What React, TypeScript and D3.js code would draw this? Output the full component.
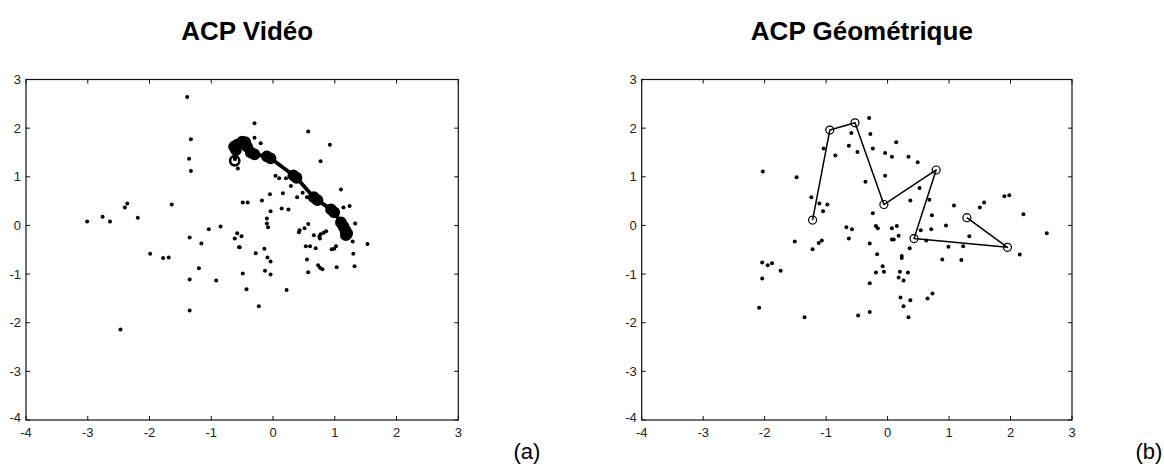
import React from "react";
import * as d3 from "d3";

const xTicks = [-4, -3, -2, -1, 0, 1, 2, 3];
const yTicks = [-4, -3, -2, -1, 0, 1, 2, 3];
const titles = ["ACP Vidéo", "ACP Géométrique"];
const panelLabels = ["(a)", "(b)"];

const leftScatter: [number, number][] = [
  [-1.39, 2.64], [-1.33, 1.77], [-1.36, 1.37], [-1.33, 1.12], [-3.01, 0.08], [-2.76, 0.18], [-2.64, 0.08],
  [-2.4, 0.37], [-2.36, 0.45], [-2.19, 0.16], [-1.64, 0.43], [-1.35, -0.25], [-1.16, -0.37], [-1.04, -0.08],
  [-0.85, -0.02], [-0.62, -0.27], [-0.58, -0.16], [-0.55, -0.45], [-1.99, -0.58], [-1.78, -0.67], [-1.69, -0.66],
  [-1.2, -0.88], [-1.35, -1.11], [-0.92, -1.13], [-1.35, -1.75], [-2.47, -2.14], [-0.57, 1.17],
  [-0.3, 2.1], [-0.3, 1.8], [-0.2, 1.69], [0.57, 1.93], [0.92, 1.66], [0.77, 1.32], [0.04, 1.02], [0.1, 0.97],
  [0.21, 0.97], [0.29, 0.81], [-0.05, 0.64], [0.16, 0.66], [0.39, 0.58], [0.48, 0.67], [0.55, 0.58], [1.1, 0.74],
  [1.14, 0.37], [1.24, 0.4], [1.33, 0.04], [-0.18, 0.51], [-0.49, 0.47], [-0.41, 0.47], [0.14, 0.35], [0.25, 0.33],
  [-0.04, 0.29], [-0.1, 0.14], [-0.1, 0.04], [-0.08, -0.04], [0.43, -0.1], [0.42, -0.14], [0.51, -0.06], [0.57, 0.03],
  [-0.51, -0.22], [-0.54, -0.45], [-0.28, -0.57], [-0.14, -0.48], [-0.09, -0.66], [0.66, -0.2], [0.75, -0.23],
  [0.77, -0.18], [0.82, -0.15], [0.86, -0.12], [0.76, -0.27], [0.53, -0.43], [0.6, -0.43], [0.69, -0.47],
  [0.95, -0.49], [0.99, -0.48], [1.02, -0.43], [1.29, -0.33], [1.53, -0.38], [1.3, -0.58], [0.55, -0.7],
  [-0.04, -0.74], [-0.49, -0.99], [-0.13, -0.93], [-0.04, -1.01], [-0.43, -1.31], [0.22, -1.33], [-0.23, -1.66],
  [0.57, -0.96], [0.73, -0.82], [0.76, -0.87], [0.8, -0.9], [1.03, -0.86], [1.32, -0.84],
];

const leftPath: [number, number][] = [
  [-0.62, 1.33], [-0.6, 1.55], [-0.63, 1.62], [-0.58, 1.66], [-0.5, 1.72], [-0.45, 1.71], [-0.42, 1.62],
  [-0.36, 1.5], [-0.3, 1.46], [-0.1, 1.42], [-0.04, 1.38], [0.33, 1.03], [0.38, 0.98], [0.66, 0.58],
  [0.72, 0.52], [0.94, 0.33], [0.99, 0.27], [1.1, 0.06], [1.14, -0.02], [1.17, -0.1], [1.2, -0.16], [1.18, -0.2],
];

const rightScatter: [number, number][] = [
  [-2.03, 1.11], [-1.48, 0.99], [-1.24, 0.58], [-1.11, 0.45], [-0.98, 0.43], [-1.05, 0.29], [-1.04, 1.58],
  [-0.85, 1.44], [-1.51, -0.33], [-1.22, -0.49], [-1.12, -0.36], [-1.07, -0.31],
  [-0.3, 2.21], [-0.59, 1.9], [-0.28, 1.88], [-0.63, 1.64], [-0.49, 1.51], [-0.24, 1.58], [0.14, 1.71],
  [-0.04, 1.49], [0.07, 1.41], [0.34, 1.41], [0.49, 1.3], [-0.04, 1.02], [-0.36, 0.9], [0.52, 0.77],
  [0.37, 0.51], [0.68, 0.53], [1.08, 0.41], [1.5, 0.37], [1.57, 0.47], [1.9, 0.6], [1.98, 0.62], [2.21, 0.23],
  [2.59, -0.16], [-0.24, 0.25], [0.72, 0.21], [-0.67, -0.04], [-0.58, -0.08], [-0.19, -0.01], [-0.16, -0.06],
  [0.07, -0.06], [0.15, -0.01], [0.18, -0.21], [0.07, -0.29], [0.1, -0.29], [0.54, -0.1], [0.71, -0.08],
  [0.95, 0.0], [1.33, -0.22], [-0.63, -0.27], [-0.29, -0.37], [0.63, -0.31], [0.36, -0.47], [0.99, -0.44],
  [1.23, -0.43], [-0.17, -0.59], [0.23, -0.63], [0.23, -0.67], [0.89, -0.7], [1.2, -0.71], [2.15, -0.6],
  [-0.08, -0.84], [-0.19, -0.97], [-0.06, -0.95], [0.2, -0.95], [0.33, -0.97], [0.18, -1.07], [0.26, -1.13],
  [-0.29, -1.19], [0.21, -1.48], [0.37, -1.54], [0.26, -1.66], [0.34, -1.89], [0.65, -1.5], [0.73, -1.4],
  [-0.29, -1.78], [-0.48, -1.85],
  [-2.04, -0.76], [-1.95, -0.82], [-1.88, -0.78], [-1.74, -0.93], [-2.04, -1.09], [-2.09, -1.69], [-1.35, -1.89],
];

const rightPath: [number, number][] = [
  [-1.22, 0.11], [-0.94, 1.96], [-0.53, 2.11], [-0.06, 0.43], [0.79, 1.14], [0.43, -0.27], [1.95, -0.45], [1.29, 0.16],
];

const FONT = "Arial, 'Liberation Sans', Helvetica, sans-serif";

type PanelProps = {
  x0: number;
  x1: number;
  title: string;
  scatter: [number, number][];
  path: [number, number][];
  thick: boolean;
};

function Panel({ x0, x1, title, scatter, path, thick }: PanelProps) {
  const y0 = 79.5;
  const y1 = 420;
  const xs = d3.scaleLinear().domain([-4, 3]).range([x0, x1]);
  const ys = d3.scaleLinear().domain([-4, 3]).range([y1, y0]);
  const line = d3
    .line<[number, number]>()
    .x((d) => xs(d[0]))
    .y((d) => ys(d[1]));
  const tl = 4;
  const axisColor = "#111";
  return (
    <g>
      <text
        x={(x0 + x1) / 2 + 5}
        y={40}
        textAnchor="middle"
        fontFamily={FONT}
        fontWeight="bold"
        fontSize={26}
        fill="#000"
      >
        {title}
      </text>
      <rect x={x0} y={y0} width={x1 - x0} height={y1 - y0} fill="#fff" stroke={axisColor} strokeWidth={1.2} />
      {xTicks.map((t) => (
        <g key={"x" + t}>
          <line x1={xs(t)} x2={xs(t)} y1={y1} y2={y1 - tl} stroke={axisColor} />
          <line x1={xs(t)} x2={xs(t)} y1={y0} y2={y0 + tl} stroke={axisColor} />
          <text x={xs(t)} y={437} textAnchor="middle" fontFamily={FONT} fontSize={13} fill="#222">
            {t}
          </text>
        </g>
      ))}
      {yTicks.map((t) => (
        <g key={"y" + t}>
          <line x1={x0} x2={x0 + tl} y1={ys(t)} y2={ys(t)} stroke={axisColor} />
          <line x1={x1} x2={x1 - tl} y1={ys(t)} y2={ys(t)} stroke={axisColor} />
          <text
            x={x0 - 5}
            y={ys(t) + (t === -4 ? -3 : 0)}
            textAnchor="end"
            dominantBaseline="central"
            fontFamily={FONT}
            fontSize={13}
            fill="#222"
          >
            {t}
          </text>
        </g>
      ))}
      {scatter.map((d, i) => (
        <circle key={"s" + i} cx={xs(d[0])} cy={ys(d[1])} r={2} fill="#000" />
      ))}
      <path d={line(path) || ""} fill="none" stroke="#000" strokeWidth={thick ? 3.8 : 1.5} strokeLinejoin="round" />
      {path.map((d, i) => (
        <circle
          key={"p" + i}
          cx={xs(d[0])}
          cy={ys(d[1])}
          r={thick ? 4.6 : 4}
          fill={thick && i > 0 ? "#000" : "none"}
          stroke="#000"
          strokeWidth={thick ? 2.6 : 1.2}
        />
      ))}
    </g>
  );
}

export default function App() {
  return (
    <svg
      width={1164}
      height={468}
      style={{ position: "absolute", left: 0, top: 0, background: "#fff" }}
    >
      <rect width={1164} height={468} fill="#fff" />
      <Panel x0={26} x1={458.3} title={titles[0]} scatter={leftScatter} path={leftPath} thick={true} />
      <Panel x0={641.7} x1={1072} title={titles[1]} scatter={rightScatter} path={rightPath} thick={false} />
      <text x={527} y={459} textAnchor="middle" fontFamily={FONT} fontSize={22} fill="#000">
        {panelLabels[0]}
      </text>
      <text x={1149} y={459} textAnchor="middle" fontFamily={FONT} fontSize={22} fill="#000">
        {panelLabels[1]}
      </text>
    </svg>
  );
}
